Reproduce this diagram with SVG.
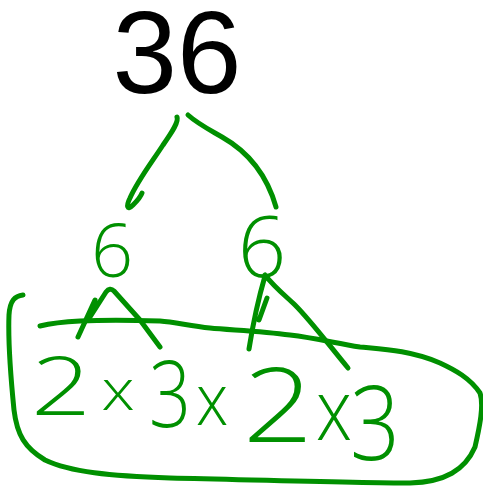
<svg xmlns="http://www.w3.org/2000/svg" width="483" height="490" viewBox="0 0 483 490">
<style>
.ink{fill:none;stroke:#009000;stroke-width:5;stroke-linecap:round;stroke-linejoin:round}
.hw{fill:#009000;font-family:"Open Sans","Liberation Sans",sans-serif;font-weight:300;text-anchor:middle}
.top{fill:#000;font-family:"Liberation Sans",Arial,sans-serif;font-size:116px;text-anchor:middle}
</style>
<rect width="483" height="490" fill="#fff"/>
<g id="n36"><text class="top" x="177" y="93">36</text></g>
<g id="connectors">
<path class="ink" d="M177,117 C179,122 172,132 163,145 C152,162 138,180 130,198 C126,206 127,211 133,205 C137,201 141,196 142,193"/>
<path class="ink" d="M188,115 C198,124 210,130 222,137 C245,150 266,172 276,207"/>
<path class="ink" d="M78,337 L95,300 M90,317 L106,292 Q110,287 114,291 L140,320 L160,347"/>
<path class="ink" d="M249,349 C252,330 258,300 265,276 M267,298 L259,320 M265,275 C275,288 288,298 295,305 C310,320 325,340 348,368"/>
</g>
<g id="n6a"><text class="hw" font-size="74" transform="translate(112,277)">6</text></g>
<g id="n6b"><text class="hw" font-size="85" transform="translate(262,277)">6</text></g>
<g id="group">
<path class="ink" d="M23,295 C15,296 10,300 9,315 C8,340 11,380 14,410 C17,435 25,448 45,460 C70,472 110,476 170,478 C260,480 360,483 410,483 C445,482 465,470 475,447 C480,425 484,405 480,393 C470,378 455,370 440,363 C410,350 380,349 360,347 C335,343 315,338 290,335 C260,331 230,330 210,328 C190,326 175,322 160,321 C130,320 100,320 80,321 C60,322 48,324 40,326"/>
<text class="hw" font-size="81" transform="translate(61,415) scale(1.3,1)">2</text>
<text class="hw" font-size="58" font-weight="400" transform="translate(118,410) scale(1.15,1)">x</text>
<text class="hw" font-size="92" transform="translate(170,427) scale(0.8,1)">3</text>
<text class="hw" font-size="72" transform="translate(212,425) scale(0.9,1)">x</text>
<text class="hw" font-size="103" transform="translate(278,442) scale(1.2,1)">2</text>
<text class="hw" font-size="85" transform="translate(334,440) scale(0.85,1)">x</text>
<text class="hw" font-size="103" transform="translate(375,460) scale(0.85,1)">3</text>
</g>
</svg>
